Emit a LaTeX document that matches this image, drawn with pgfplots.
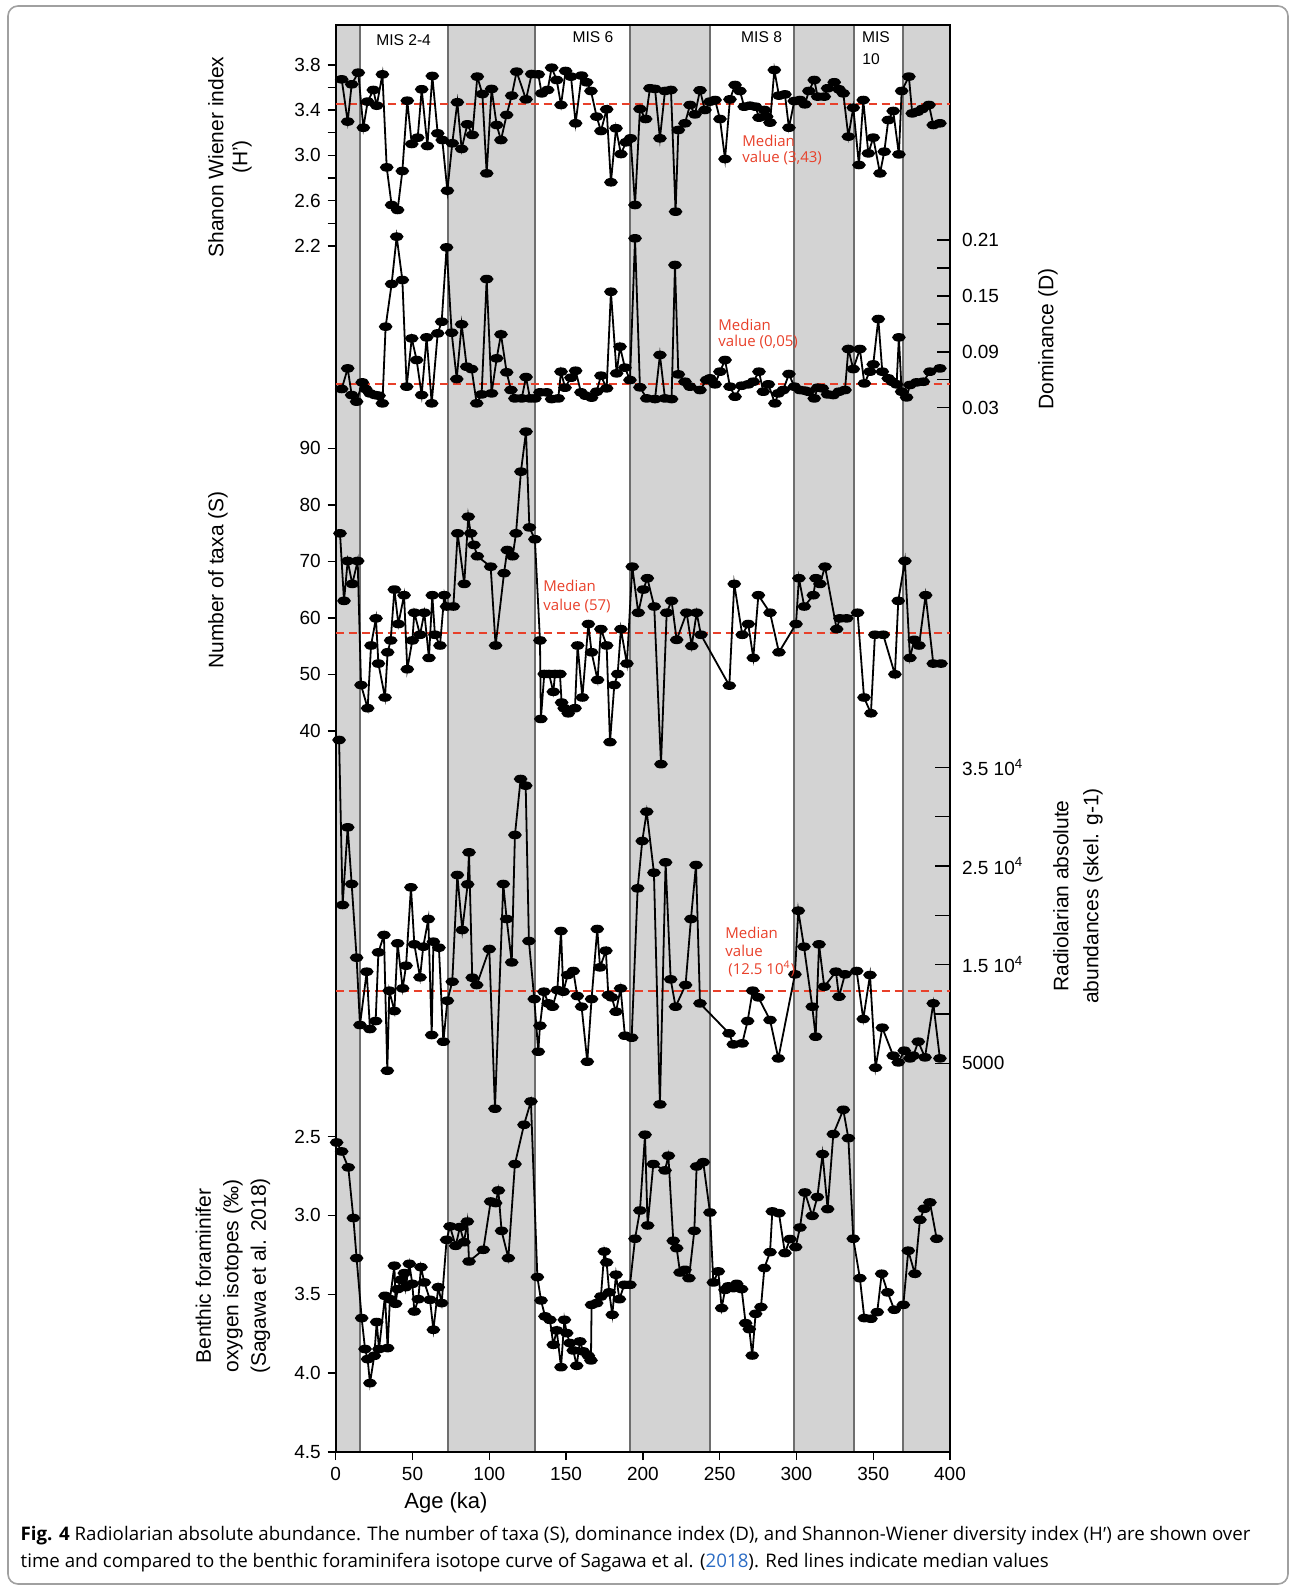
\documentclass[border=0pt]{standalone}
\usepackage{pgfplots}
\pgfplotsset{compat=1.18}
\usepackage{fontspec}
\setmainfont{Liberation Sans}
\newfontfamily\capfont{Open Sans}
\definecolor{bandgray}{HTML}{D3D3D3}
\definecolor{bandline}{HTML}{6E6E6E}
\definecolor{medred}{HTML}{E8402A}
\definecolor{linkblue}{HTML}{2B6CC4}
\definecolor{framegray}{HTML}{A0A0A0}

\pgfdeclareplotmark{ell}{%
  \pgfpathellipse{\pgfpointorigin}{\pgfpoint{2.9bp}{0bp}}{\pgfpoint{0bp}{1.7bp}}%
  \pgfusepathqfillstroke}

\pgfplotsset{
  base/.style={scale only axis, width=307.15bp, height=713.5bp,
    at={(167.85bp,-726bp)}, anchor=south west, xmin=0, xmax=400, clip=false},
  hidden/.style={base, axis x line=none, y axis line style={draw=none},
    tick style={black, line width=0.7bp},
    yticklabel style={font=\fontsize{9.5bp}{11bp}\selectfont}},
  leftax/.style={hidden, axis y line*=left, tick align=outside, major tick length=4bp},
  rightax/.style={hidden, axis y line*=right, tick align=inside, major tick length=6.5bp,
    yticklabel style={xshift=2.5bp}},
  series/.style={black, line width=0.9bp, mark=ell, mark options={solid}},
  median/.style={medred, line width=1.1bp, dash pattern=on 4bp off 2.5bp, mark=none, forget plot},
}
\newcommand{\medfont}{\capfont\fontsize{7.5bp}{8.5bp}\selectfont\color{medred}}

\begin{document}
\begin{tikzpicture}[x=0.5bp,y=-0.5bp]
\useasboundingbox (0,0) rectangle (1295,1590);
\draw[framegray, line width=0.8bp, rounded corners=5bp] (8,6) rectangle (1288,1584);

% ---------- main frame with bands ----------
\begin{axis}[base, ymin=0, ymax=1, ytick=\empty,
  xtick={0,50,100,150,200,250,300,350,400},
  xticklabels={0,50,100,150,200,250,300,350,400},
  xtick pos=bottom, tick align=outside, major tick length=4bp,
  tick style={black,line width=0.7bp},
  xticklabel style={font=\fontsize{9.5bp}{11bp}\selectfont},
  axis line style={black, line width=0.8bp}, axis on top]
\fill[bandgray] (axis cs:0,0) rectangle (axis cs:16,1);
\fill[bandgray] (axis cs:73,0) rectangle (axis cs:129.6,1);
\fill[bandgray] (axis cs:191.8,0) rectangle (axis cs:243.9,1);
\fill[bandgray] (axis cs:298.4,0) rectangle (axis cs:337.6,1);
\fill[bandgray] (axis cs:369.5,0) rectangle (axis cs:400,1);
\draw[bandline, line width=1bp] (axis cs:16,0) -- (axis cs:16,1);
\draw[bandline, line width=1bp] (axis cs:73,0) -- (axis cs:73,1);
\draw[bandline, line width=1bp] (axis cs:129.6,0) -- (axis cs:129.6,1);
\draw[bandline, line width=1bp] (axis cs:191.8,0) -- (axis cs:191.8,1);
\draw[bandline, line width=1bp] (axis cs:243.9,0) -- (axis cs:243.9,1);
\draw[bandline, line width=1bp] (axis cs:298.4,0) -- (axis cs:298.4,1);
\draw[bandline, line width=1bp] (axis cs:337.6,0) -- (axis cs:337.6,1);
\draw[bandline, line width=1bp] (axis cs:369.5,0) -- (axis cs:369.5,1);
\end{axis}

% ---------- Shannon ----------
\begin{axis}[leftax, ymin=-8.474, ymax=4.154,
  ytick={2.2,2.4,2.6,2.8,3.0,3.2,3.4,3.6,3.8},
  yticklabels={2.2,,2.6,,3.0,,3.4,,3.8}]
\addplot[median] coordinates {(0,3.455) (400,3.455)};
\addplot[series] coordinates {
(3.9,3.673)(7.8,3.299)(10.4,3.629)(14.7,3.732)(18.0,3.245)(20.8,3.476)(24.5,3.579)(26.7,3.440)(30.4,3.717)(33.2,2.894)(36.4,2.561)(40.3,2.517)(43.4,2.862)(46.6,3.484)(49.5,3.101)(53.4,3.157)(56.0,3.585)(59.7,3.083)(62.9,3.703)(66.4,3.195)(69.4,3.136)(72.7,2.688)(75.9,3.107)(79.2,3.470)(82.0,3.057)(85.7,3.275)(89.0,3.181)(92.2,3.697)(95.5,3.543)(98.3,2.841)(101.5,3.588)(104.8,3.269)(107.6,3.136)(111.3,3.358)(114.6,3.529)(117.8,3.741)(123.9,3.496)(127.6,3.720)(131.9,3.717)(134.1,3.549)(138.0,3.579)(140.6,3.776)(143.9,3.667)(146.7,3.446)(149.7,3.747)(153.2,3.697)(156.2,3.284)(160.1,3.706)(163.4,3.647)(166.2,3.570)(169.9,3.343)(172.7,3.216)(176.4,3.408)(179.2,2.762)(182.5,3.240)(185.7,3.012)(189.0,3.116)(192.0,3.151)(194.9,2.561)(198.1,3.411)(201.8,3.322)(204.6,3.594)(207.9,3.588)(211.1,3.151)(214.4,3.570)(218.3,3.579)(221.3,2.502)(223.1,3.225)(227.4,3.284)(230.7,3.446)(233.9,3.363)(237.2,3.576)(240.4,3.402)(243.7,3.476)(247.0,3.490)(250.2,3.322)(253.5,2.968)(256.7,3.496)(260.0,3.623)(263.2,3.570)(266.0,3.431)(269.7,3.440)(273.4,3.431)(275.6,3.334)(279.1,3.402)(280.6,3.343)(282.8,3.290)(285.6,3.756)(288.6,3.529)(292.5,3.540)(295.1,3.245)(298.6,3.481)(302.3,3.490)(305.5,3.452)(308.1,3.570)(311.6,3.667)(313.8,3.520)(318.1,3.520)(320.3,3.594)(324.6,3.647)(327.7,3.585)(330.5,3.549)(333.8,3.166)(337.0,3.422)(340.7,2.915)(343.5,3.490)(346.8,3.018)(350.0,3.157)(354.4,2.841)(357.2,3.033)(359.8,3.313)(363.0,3.393)(366.7,3.009)(368.5,3.570)(373.2,3.697)(375.4,3.372)(378.9,3.387)(381.9,3.411)(386.3,3.446)(389.1,3.269)(393.4,3.284)
};
\end{axis}

% ---------- Dominance ----------
\begin{axis}[rightax, ymin=-1.09089, ymax=0.44077,
  ytick={0.03,0.06,0.09,0.12,0.15,0.18,0.21},
  yticklabels={0.03,,0.09,,0.15,,0.21}]
\addplot[median] coordinates {(0,0.0558) (400,0.0558)};
\addplot[series] coordinates {
(3.9,0.0501)(7.8,0.0722)(10.4,0.0436)(13.6,0.0365)(17.3,0.0572)(19.5,0.0501)(22.3,0.0454)(25.6,0.0436)(28.2,0.0429)(30.4,0.0347)(32.5,0.1170)(36.4,0.1628)(39.7,0.2136)(43.4,0.1671)(46.2,0.0526)(49.5,0.1044)(52.7,0.0812)(55.96,0.0436)(59.2,0.1055)(62.5,0.0347)(66.4,0.1098)(69.0,0.1223)(72.2,0.2021)(75.5,0.1105)(78.8,0.0608)(82.0,0.1195)(85.3,0.0740)(88.5,0.0715)(91.8,0.0347)(95.0,0.0443)(98.3,0.1681)(101.5,0.0454)(104.8,0.0830)(107.6,0.1087)(111.3,0.0680)(114.1,0.0490)(116.7,0.0400)(121.1,0.0400)(123.9,0.0629)(126.5,0.0400)(129.7,0.0400)(133.0,0.0465)(137.3,0.0465)(140.6,0.0393)(144.9,0.0400)(146.7,0.0687)(149.3,0.0515)(153.2,0.0622)(156.2,0.0697)(159.7,0.0465)(162.7,0.0429)(166.6,0.0408)(169.9,0.0472)(172.7,0.0644)(176.4,0.0508)(179.2,0.1545)(182.9,0.0669)(185.1,0.0955)(188.3,0.0730)(191.6,0.0597)(194.9,0.2118)(198.1,0.0519)(202.5,0.0400)(207.9,0.0393)(211.1,0.0866)(214.4,0.0400)(218.7,0.0393)(220.9,0.1832)(223.1,0.0658)(227.4,0.0579)(230.7,0.0526)(237.2,0.0490)(241.5,0.0597)(243.7,0.0615)(247.0,0.0551)(250.2,0.0687)(253.5,0.0812)(256.7,0.0526)(260.0,0.0418)(264.3,0.0536)(268.6,0.0551)(271.9,0.0579)(275.6,0.0687)(278.4,0.0472)(281.7,0.0551)(286.0,0.0347)(288.2,0.0454)(291.4,0.0490)(295.1,0.0662)(298.6,0.0526)(302.3,0.0490)(305.5,0.0483)(307.7,0.0472)(311.6,0.0400)(313.8,0.0515)(316.8,0.0508)(320.3,0.0443)(324.0,0.0436)(327.7,0.0472)(331.6,0.0490)(333.8,0.0930)(337.0,0.0715)(341.3,0.0930)(344.2,0.0561)(347.8,0.0687)(350.0,0.0765)(353.3,0.1252)(355.9,0.0687)(359.8,0.0615)(362.4,0.0579)(365.2,0.0551)(366.7,0.1055)(368.5,0.0472)(371.7,0.0411)(373.9,0.0544)(378.2,0.0572)(382.6,0.0579)(386.9,0.0687)(393.4,0.0722)
};
\end{axis}

% ---------- Number of taxa ----------
\begin{axis}[leftax, ymin=-87.65, ymax=164.92,
  ytick={40,50,60,70,80,90}, yticklabels={40,50,60,70,80,90}]
\addplot[median] coordinates {(0,57.26) (400,57.26)};
\addplot[series] coordinates {
(2.8,74.95)(5.4,63.0)(7.8,70.06)(10.8,66.0)(14.3,70.06)(16.5,48.1)(20.8,44.0)(23.0,55.1)(26.2,59.9)(27.8,51.9)(32.1,45.9)(33.8,53.9)(35.8,56.0)(38.2,65.0)(40.8,58.9)(44.5,64.0)(46.6,50.9)(49.9,56.0)(51.2,60.9)(54.9,57.0)(57.7,60.9)(60.7,52.9)(62.9,64.0)(64.6,57.0)(67.9,55.1)(70.7,64.0)(72.2,62.0)(76.6,62.0)(79.4,74.95)(83.7,66.0)(86.3,77.9)(87.9,74.95)(90.0,72.9)(92.2,70.9)(100.9,69.05)(104.1,55.1)(109.6,67.9)(111.7,72.0)(115.2,70.9)(117.4,74.95)(120.6,85.87)(123.9,92.95)(126.1,76.0)(129.7,73.9)(133.0,56.0)(133.6,42.1)(135.8,50.06)(138.9,50.06)(141.7,46.9)(142.8,50.06)(146.0,50.06)(147.1,45.0)(148.8,44.0)(151.4,43.1)(155.8,44.0)(157.5,55.1)(160.6,45.9)(164.5,58.9)(166.6,53.9)(170.5,49.0)(172.7,58.0)(176.4,55.1)(178.6,38.0)(181.4,48.1)(183.6,50.06)(185.7,58.0)(189.6,51.9)(193.1,69.05)(197.0,60.9)(200.3,65.0)(202.9,67.0)(207.4,62.0)(211.8,34.1)(215.5,60.9)(218.7,63.0)(222.0,56.1)(228.5,60.9)(231.8,55.0)(235.0,60.9)(237.8,57.0)(256.3,48.0)(259.5,66.0)(264.7,57.0)(268.6,58.9)(271.9,52.9)(275.2,64.0)(282.8,60.9)(288.6,53.9)(299.7,58.9)(301.6,67.0)(305.1,62.0)(311.0,64.0)(312.7,67.0)(315.3,66.0)(318.6,69.05)(326.2,58.0)(328.3,59.9)(332.7,59.9)(339.8,60.9)(344.0,45.9)(348.5,43.1)(351.1,57.0)(356.5,57.0)(364.1,50.0)(366.3,63.0)(370.6,70.06)(373.9,52.9)(376.7,56.1)(379.8,55.1)(384.1,64.0)(389.1,51.9)(394.1,51.9)
};
\end{axis}

% ---------- Radiolarian abundance ----------
\begin{axis}[rightax, major tick length=7.5bp, ymin=-34401, ymax=110240, scaled y ticks=false,
  ytick={5000,10000,15000,20000,25000,30000,35000},
  yticklabels={5000,,{1.5 10\textsuperscript{4}},,{2.5 10\textsuperscript{4}},,{3.5 10\textsuperscript{4}}}]
\addplot[median] coordinates {(0,12357) (400,12357)};
\addplot[series] coordinates {
(2.2,37771)(4.5,21045)(7.8,28918)(10.4,23173)(13.6,15706)(15.8,8881)(20.2,14287)(22.3,8475)(26.0,9286)(27.8,16247)(31.4,18004)(33.6,4251)(34.9,12361)(38.2,10300)(40.3,17159)(43.6,12597)(45.8,14895)(49.0,22836)(51.2,17058)(54.9,13712)(57.0,16821)(60.3,19626)(62.5,7867)(63.6,17328)(67.2,16720)(70.1,7191)(72.7,11347)(75.9,13273)(79.2,24086)(82.4,18510)(85.9,23140)(86.8,26383)(88.9,13678)(91.8,12935)(100.0,16584)(103.7,400)(109.1,23173)(111.3,19626)(114.6,15233)(116.7,28141)(120.4,33817)(123.7,33142)(125.8,17395)(129.3,11516)(131.9,6178)(133.0,8813)(135.6,12260)(138.4,11077)(141.2,10739)(144.3,12428)(146.7,18409)(148.2,12260)(151.0,13949)(154.7,14354)(157.3,11820)(160.1,10739)(163.8,5163)(166.6,11516)(170.3,18612)(172.1,14726)(175.9,16416)(177.5,11921)(179.7,11685)(182.5,10232)(185.5,12597)(188.3,7799)(192.7,7596)(196.6,22734)(199.6,27532)(202.5,30506)(207.2,24322)(211.1,838)(214.8,25370)(218.1,13510)(221.3,10739)(227.8,12935)(231.3,19626)(234.6,25100)(237.2,11077)(256.1,8036)(258.9,6921)(264.7,7022)(268.2,9286)(271.5,12361)(275.2,11685)(282.8,9388)(288.2,5501)(299.0,14016)(301.2,20470)(304.9,16821)(310.3,10739)(312.5,7698)(314.7,17058)(318.1,12766)(325.7,14287)(327.7,11753)(331.6,14016)(339.2,14354)(343.5,9489)(347.9,13949)(351.5,4555)(355.9,8610)(363.0,5772)(366.3,5096)(370.2,6279)(373.9,5501)(376.1,5772)(379.3,7191)(383.7,5603)(389.1,11077)(393.4,5501)
};
\end{axis}

% ---------- Benthic isotopes ----------
\begin{axis}[leftax, y dir=reverse, ymin=-4.543, ymax=4.5,
  ytick={2.5,3.0,3.5,4.0,4.5}, yticklabels={2.5,3.0,3.5,4.0,4.5}]
\addplot[series] coordinates {
(0.6,2.538)(3.9,2.595)(8.2,2.696)(11.5,3.017)(13.6,3.271)(16.9,3.651)(19.1,3.847)(20.8,3.911)(22.3,4.063)(25.1,3.890)(26.7,3.676)(28.2,3.847)(32.1,3.510)(33.8,3.841)(35.3,3.531)(38.2,3.319)(39.0,3.560)(40.3,3.467)(42.5,3.408)(44.7,3.366)(45.5,3.455)(47.9,3.307)(49.9,3.434)(51.2,3.609)(53.8,3.531)(55.5,3.328)(57.7,3.425)(61.4,3.535)(63.6,3.725)(66.8,3.455)(69.0,3.556)(72.2,3.155)(74.4,3.070)(78.1,3.193)(80.9,3.074)(83.5,3.170)(85.7,3.039)(86.8,3.292)(96.1,3.218)(100.9,2.912)(104.1,2.922)(105.9,2.842)(108.0,3.098)(112.4,3.271)(116.7,2.675)(122.6,2.426)(127.1,2.278)(131.3,3.391)(133.7,3.539)(136.3,3.640)(139.5,3.662)(141.7,3.820)(143.9,3.729)(146.7,3.962)(148.9,3.662)(150.4,3.746)(152.5,3.809)(154.7,3.856)(156.9,3.953)(159.0,3.799)(161.2,3.862)(164.5,3.890)(166.2,3.919)(166.6,3.567)(169.9,3.556)(172.7,3.514)(174.9,3.229)(176.4,3.298)(178.1,3.488)(180.1,3.630)(182.5,3.376)(184.7,3.531)(187.9,3.440)(191.6,3.440)(194.9,3.148)(198.1,2.969)(201.4,2.489)(203.1,3.064)(206.8,2.675)(214.4,2.715)(216.6,2.622)(219.8,3.161)(222.0,3.208)(224.2,3.362)(227.4,3.345)(230.0,3.398)(233.5,3.098)(235.0,2.690)(239.3,2.663)(243.7,2.982)(245.9,3.425)(249.1,3.355)(251.3,3.588)(253.5,3.472)(255.6,3.450)(258.9,3.461)(261.1,3.434)(264.3,3.467)(266.9,3.683)(269.3,3.721)(271.2,3.888)(273.4,3.624)(276.9,3.581)(279.1,3.334)(282.8,3.233)(284.3,2.975)(288.6,2.986)(292.5,3.239)(295.8,3.150)(299.5,3.201)(302.3,3.077)(305.5,2.855)(310.3,3.003)(313.6,2.884)(317.0,2.612)(320.3,2.960)(324.0,2.485)(330.5,2.331)(333.8,2.511)(337.0,3.148)(341.3,3.398)(344.2,3.651)(348.5,3.655)(352.6,3.613)(355.5,3.370)(359.4,3.488)(363.7,3.598)(369.6,3.567)(372.8,3.224)(377.1,3.370)(380.4,3.028)(383.2,2.958)(386.9,2.918)(391.3,3.148)
};
\end{axis}

% ---------- labels ----------
\begin{scope}[every node/.style={inner sep=0pt}]
\node[rotate=90, align=center, font=\fontsize{10.5bp}{12bp}\selectfont] at (230,157) {Shanon Wiener index\\(H')};
\node[rotate=90, font=\fontsize{10.5bp}{12bp}\selectfont] at (218,580) {Number of taxa (S)};
\node[rotate=90, align=center, font=\fontsize{10.5bp}{13.75bp}\selectfont] at (233,1276) {Benthic foraminifer\\oxygen isotopes (‰)\\(Sagawa et al. 2018)};
\node[rotate=90, font=\fontsize{10.5bp}{12bp}\selectfont] at (1048,339) {Dominance (D)};
\node[rotate=90, align=center, font=\fontsize{10.5bp}{15bp}\selectfont] at (1078,896) {Radiolarian absolute\\abundances (skel. g-1)};
\node[font=\fontsize{11bp}{13bp}\selectfont] at (446,1503) {Age (ka)};
% MIS labels
\node[font=\fontsize{7.8bp}{9bp}\selectfont] at (403.6,40.6) {MIS 2-4};
\node[font=\fontsize{7.8bp}{9bp}\selectfont] at (593,37.5) {MIS 6};
\node[font=\fontsize{7.8bp}{9bp}\selectfont] at (761.6,37.5) {MIS 8};
\node[font=\fontsize{7.8bp}{9bp}\selectfont] at (876,37.5) {MIS};
\node[font=\fontsize{7.8bp}{9bp}\selectfont] at (871,59) {10};
% median labels
\node[anchor=base west, font=\medfont] at (742,146.7) {Median};
\node[anchor=base west, font=\medfont] at (742,162) {value (3,43)};
\node[anchor=base west, font=\medfont] at (718,330) {Median};
\node[anchor=base west, font=\medfont] at (718,346.7) {value (0,05)};
\node[anchor=base west, font=\medfont] at (543,591.7) {Median};
\node[anchor=base west, font=\medfont] at (543,610) {value (57)};
\node[anchor=base west, font=\medfont] at (725,938) {Median};
\node[anchor=base west, font=\medfont] at (725,956.7) {value};
\node[anchor=base west, font=\medfont] at (728,974.3) {(12.5 10\textsuperscript{4})};
% caption
\node[anchor=base west, font=\capfont\fontsize{9.35bp}{11bp}\selectfont] at (20.3,1540) {\textbf{Fig. 4} Radiolarian absolute abundance. The number of taxa (S), dominance index (D), and Shannon-Wiener diversity index (H{\fontspec{Liberation Sans}′}) are shown over};
\node[anchor=base west, font=\capfont\fontsize{9.35bp}{11bp}\selectfont] at (20.3,1567) {time and compared to the benthic foraminifera isotope curve of Sagawa et al. ({\color{linkblue}2018}). Red lines indicate median values};
\end{scope}
\end{tikzpicture}
\end{document}
